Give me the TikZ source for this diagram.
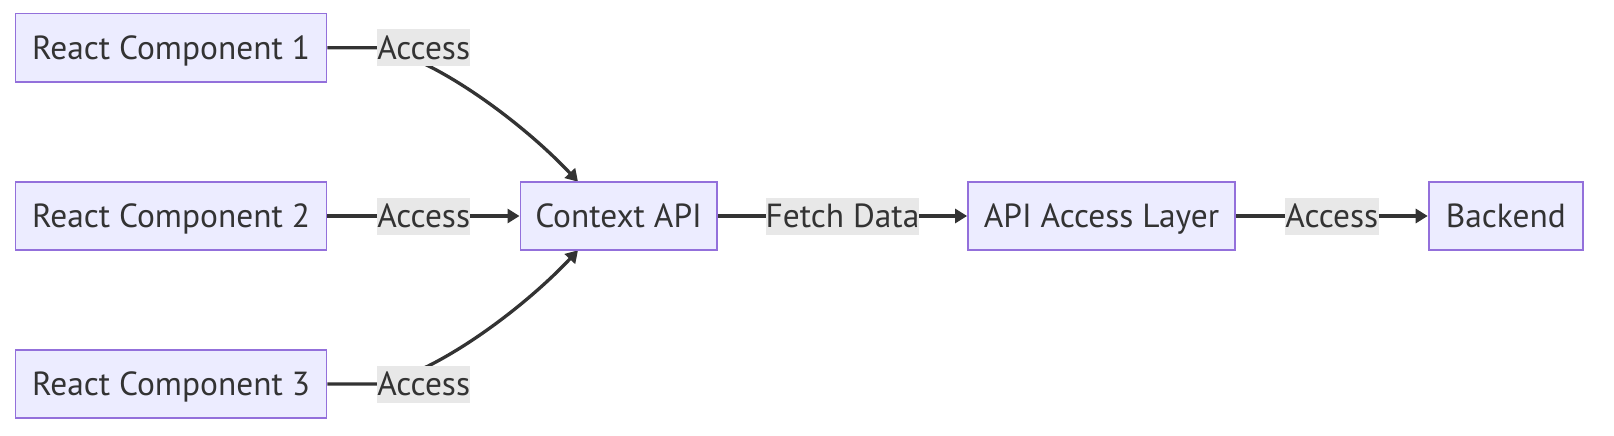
\documentclass[tikz,border=0pt]{standalone}
\usepackage{fontspec}
\setmainfont{PT Sans}
\usetikzlibrary{arrows.meta}
\definecolor{boxfill}{HTML}{ECECFF}
\definecolor{boxline}{HTML}{9370DB}
\definecolor{labfill}{HTML}{E8E8E8}
\definecolor{ink}{HTML}{333333}
\pgfdeclarelayer{bg}
\pgfsetlayers{bg,main}
\tikzset{
  box/.style={draw=boxline, fill=boxfill, line width=1.8pt, minimum height=68.3pt, inner sep=0pt,
    text=ink, font=\fontsize{33.4}{33.4}\selectfont, text height=26pt, text depth=2.6pt},
  lab/.style={fill=labfill, inner sep=0pt, minimum height=37pt, text=ink,
    font=\fontsize{33.4}{33.4}\selectfont, text height=26pt, text depth=2.6pt},
  edge/.style={draw=ink, line width=3.3pt},
  arr/.style={edge, -{Triangle[length=12pt,width=14pt]}},
}
\begin{document}
\begin{tikzpicture}[x=1pt,y=-1pt]
\useasboundingbox (0,0) rectangle (1614,436);
\node[box, minimum width=311pt] (rc1) at (171,47.7) {React Component 1};
\node[box, minimum width=311pt] (rc2) at (171,216) {React Component 2};
\node[box, minimum width=311pt] (rc3) at (171,384) {React Component 3};
\node[box, minimum width=196.4pt] (ctx) at (618.6,216) {Context API};
\node[box, minimum width=267pt] (api) at (1101.5,216) {API Access Layer};
\node[box, minimum width=154.4pt] (be) at (1505.8,216) {Backend};
\node[lab, minimum width=93.5pt] (l1) at (423.7,47.7) {Access};
\node[lab, minimum width=93.5pt] (l2) at (423.7,216) {Access};
\node[lab, minimum width=93.5pt] (l3) at (423.7,384) {Access};
\node[lab, minimum width=152pt] (l4) at (842.5,216) {Fetch Data};
\node[lab, minimum width=94.3pt] (l5) at (1331.8,216) {Access};
\coordinate (t1) at (578,181.7);
\coordinate (t3) at (578,250.3);
\begin{pgfonlayer}{bg}
\draw[arr] (rc1.east) -- (l1.west) .. controls (430,55) and (520,120) .. (t1);
\draw[arr] (rc3.east) -- (l3.west) .. controls (430,376.7) and (520,312) .. (t3);
\draw[arr] (rc2.east) -- (ctx.west);
\draw[arr] (ctx.east) -- (api.west);
\draw[arr] (api.east) -- (be.west);
\end{pgfonlayer}
\end{tikzpicture}
\end{document}
